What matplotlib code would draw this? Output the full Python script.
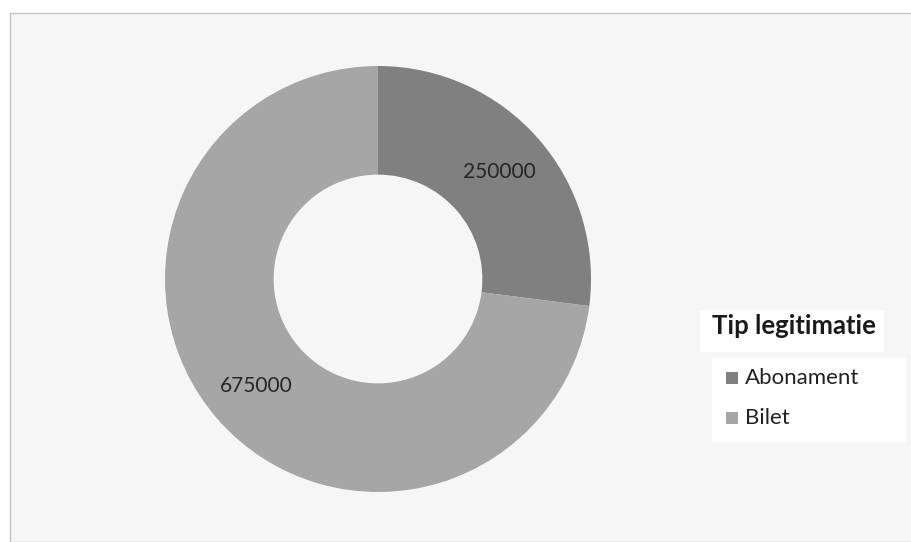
import matplotlib
matplotlib.use("Agg")
import matplotlib.pyplot as plt
from matplotlib.patches import Rectangle

# Data
categories = ["Abonament", "Bilet"]
values = [250000, 675000]
colors = ["#808080", "#a6a6a6"]
legend_title = "Tip legitimatie"

plt.rcParams["font.family"] = ["Lato", "DejaVu Sans"]

W, H = 912, 542
fig = plt.figure(figsize=(W / 100, H / 100), dpi=100, facecolor="white")


def fx(px):
    return px / W


def fy(py):
    # pixel y from top -> figure fraction
    return (H - py) / H


# scanned chart area background with thin border
fig.patches.append(Rectangle((fx(10), 0), 1, fy(13), transform=fig.transFigure,
                             facecolor="#f6f6f6", edgecolor="#c4c4c4", linewidth=1.0,
                             zorder=-10))

# donut: center (378, 278) px, outer radius 213 px
cx, cy, r = 378, 279, 213
ax = fig.add_axes([fx(cx - r), fy(cy + r), 2 * r / W, 2 * r / H])
ax.set_facecolor("none")

total = sum(values)
wedges, texts, autotexts = ax.pie(
    values, colors=colors, startangle=90, counterclock=False,
    wedgeprops=dict(width=0.51, edgecolor="none"),
    autopct=lambda p: "{0:.0f}".format(p * total / 100.0),
    pctdistance=0.76, textprops=dict(fontsize=15, color="#262626"))
ax.set_xlim(-1, 1)
ax.set_ylim(-1, 1)
ax.set_aspect("equal")
ax.axis("off")

# legend title box
fig.patches.append(Rectangle((fx(700), fy(352)), fx(184), 42 / H, transform=fig.transFigure,
                             facecolor="white", edgecolor="none", zorder=-5))
fig.text(fx(712), fy(326), legend_title, fontsize=18.5, fontweight="bold",
         color="#1a1a1a", va="center", ha="left")

# legend items box
fig.patches.append(Rectangle((fx(712), fy(442)), fx(194), 84 / H, transform=fig.transFigure,
                             facecolor="white", edgecolor="none", zorder=-5))
item_y = [378, 418]
for name, col, yy in zip(categories, colors, item_y):
    fig.patches.append(Rectangle((fx(726), fy(yy + 6)), fx(12), 12 / H, transform=fig.transFigure,
                                 facecolor=col, edgecolor="none"))
    fig.text(fx(745), fy(yy), name, fontsize=16, color="#222222", va="center", ha="left")

fig.savefig("out.png", dpi=100, facecolor=fig.get_facecolor())
